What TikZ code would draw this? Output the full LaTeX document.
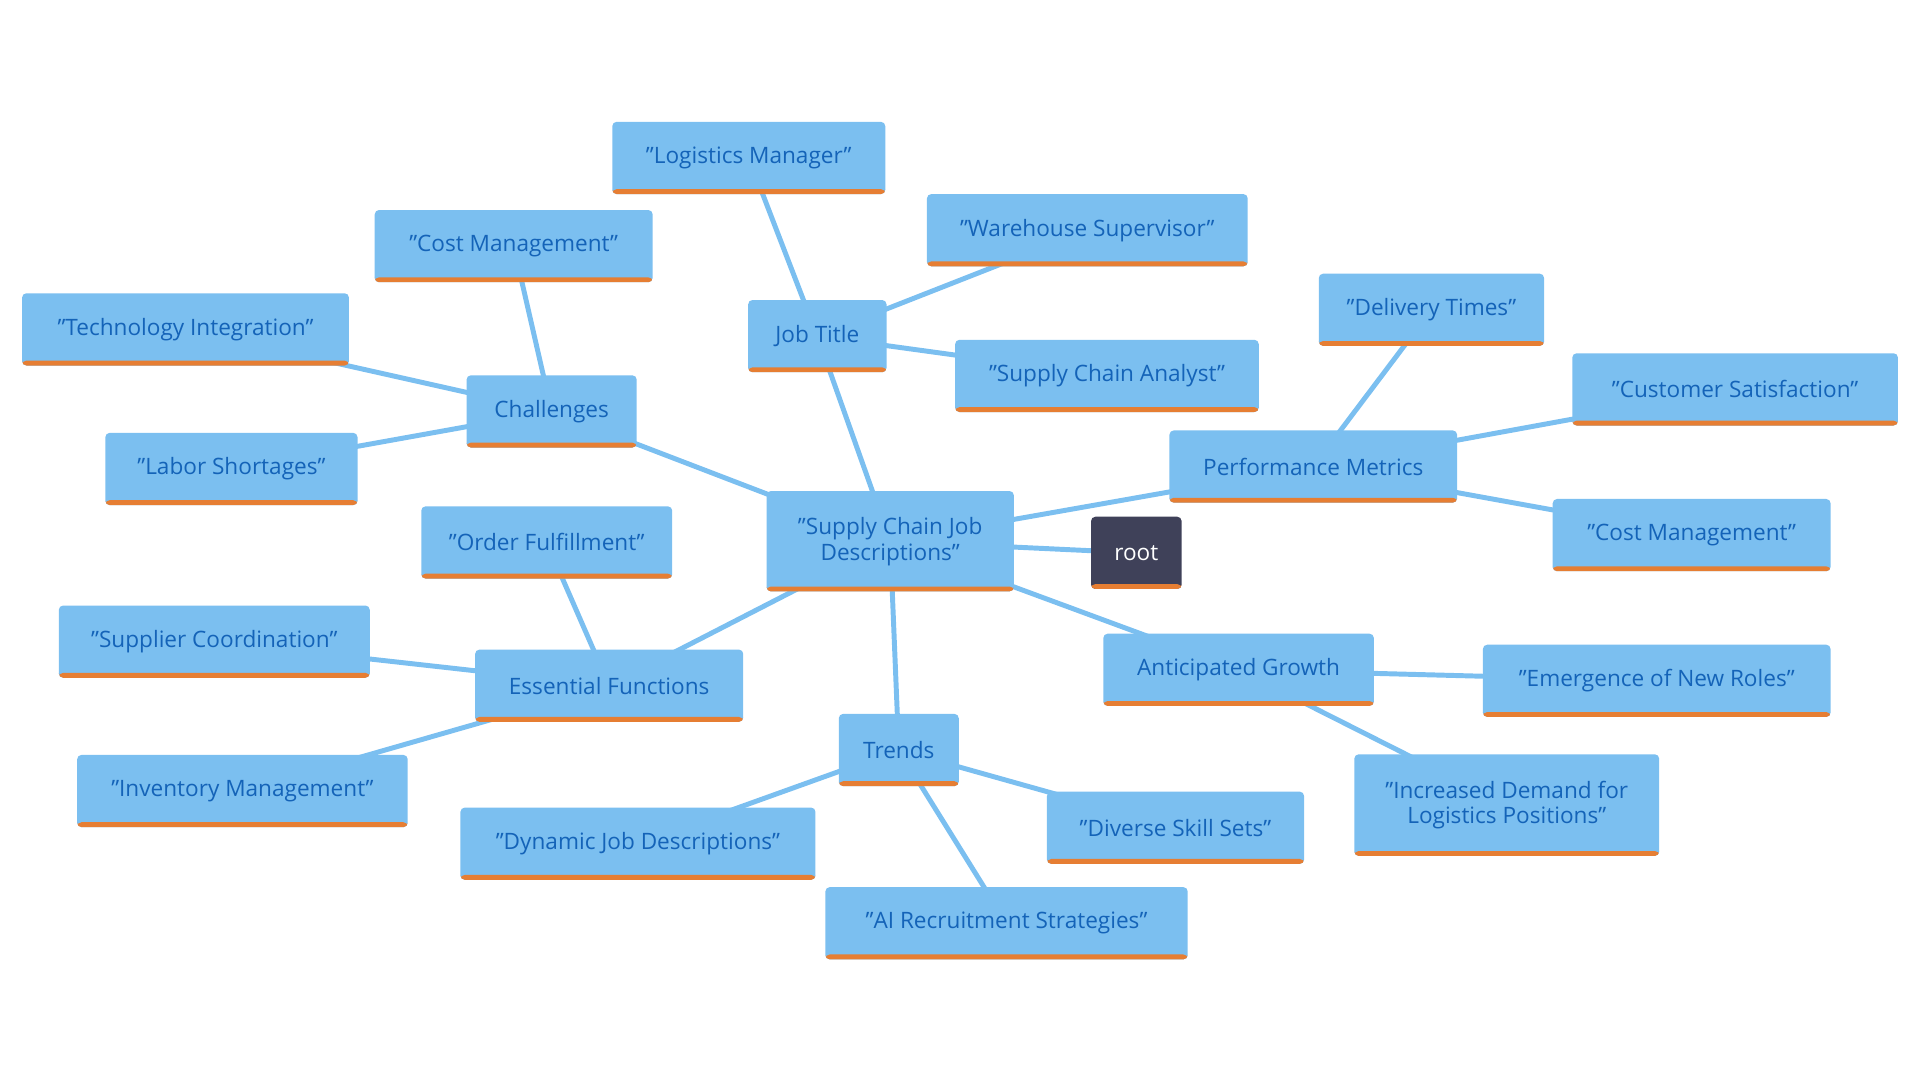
\documentclass[tikz,border=0pt]{standalone}
\usepackage{fontspec}
\setmainfont{Open Sans}
\usetikzlibrary{backgrounds}
\definecolor{boxfill}{HTML}{7BBFF0}
\definecolor{boxtext}{HTML}{1463B8}
\definecolor{barcol}{HTML}{E67E33}
\definecolor{rootfill}{HTML}{3F4159}
\begin{document}
\begin{tikzpicture}[x=0.02cm, y=-0.02cm,
topic/.style = { fill = boxfill, text = boxtext, rounded corners = 2pt, inner sep = 0pt, align = center,
font = \fontsize{10.5}{12}\selectfont, minimum height = 1.18cm,
path picture = {\fill[barcol] ([yshift=0.08cm]path picture bounding box.south west) rectangle (path picture bounding box.south east);}},
rootbox/.style = { topic, fill = rootfill, text = white },
link/.style = { draw = boxfill, line width = 2.3pt }]
\useasboundingbox (0,0) rectangle (1568,882);
\node[rootbox, minimum width = 1.48cm] (root) at (928,451.5) {root};
\node[topic, minimum width = 4.04cm, minimum height = 1.64cm] (main) at (727,442) {"Supply Chain Job\\Descriptions"};
% job title branch
\node[topic, minimum width = 2.26cm] (title) at (667.5,274.5) {Job Title};
\node[topic, minimum width = 4.46cm] (logman) at (611.5,129) {"Logistics Manager"};
\node[topic, minimum width = 5.24cm] (warehouse) at (888,188) {"Warehouse Supervisor"};
\node[topic, minimum width = 4.96cm] (analyst) at (904,307) {"Supply Chain Analyst"};
% challenges branch
\node[topic, minimum width = 2.78cm] (chall) at (450.5,336) {Challenges};
\node[topic, minimum width = 4.54cm] (costA) at (419.5,201) {"Cost Management"};
\node[topic, minimum width = 5.34cm] (tech) at (151.5,269) {"Technology Integration"};
\node[topic, minimum width = 4.12cm] (labor) at (189,383) {"Labor Shortages"};
% performance branch
\node[topic, minimum width = 4.7cm] (perf) at (1072.5,381) {Performance Metrics};
\node[topic, minimum width = 3.68cm] (delivery) at (1169,253) {"Delivery Times"};
\node[topic, minimum width = 5.32cm] (custsat) at (1417,318) {"Customer Satisfaction"};
\node[topic, minimum width = 4.54cm] (costB) at (1381.5,437) {"Cost Management"};
% essential functions branch
\node[topic, minimum width = 4.38cm] (essent) at (497.5,560) {Essential Functions};
\node[topic, minimum width = 4.1cm] (order) at (446.5,443) {"Order Fulfillment"};
\node[topic, minimum width = 5.08cm] (supplier) at (175,524) {"Supplier Coordination"};
\node[topic, minimum width = 5.4cm] (invent) at (198,646) {"Inventory Management"};
% trends branch
\node[topic, minimum width = 1.96cm] (trends) at (734,612.5) {Trends};
\node[topic, minimum width = 5.8cm] (dynamic) at (521,689) {"Dynamic Job Descriptions"};
\node[topic, minimum width = 5.92cm] (airec) at (822,754) {"AI Recruitment Strategies"};
\node[topic, minimum width = 4.2cm] (skills) at (960,676) {"Diverse Skill Sets"};
% growth branch
\node[topic, minimum width = 4.42cm] (growth) at (1011.5,547) {Anticipated Growth};
\node[topic, minimum width = 5.68cm] (newroles) at (1353,556) {"Emergence of New Roles"};
\node[topic, minimum width = 4.98cm, minimum height = 1.66cm] (demand) at (1230.5,657.5) {"Increased Demand for\\Logistics Positions"};
\begin{scope}[on background layer]
\foreach \a/\b in {main/root, main/title, title/logman, title/warehouse, title/analyst,
  main/chall, chall/costA, chall/tech, chall/labor, main/perf, perf/delivery, perf/custsat, perf/costB,
  main/essent, essent/order, essent/supplier, essent/invent, main/trends, trends/dynamic, trends/airec,
  trends/skills, main/growth, growth/newroles, growth/demand}
  \draw[link] (\a.center) -- (\b.center);
\end{scope}
\end{tikzpicture}
\end{document}
